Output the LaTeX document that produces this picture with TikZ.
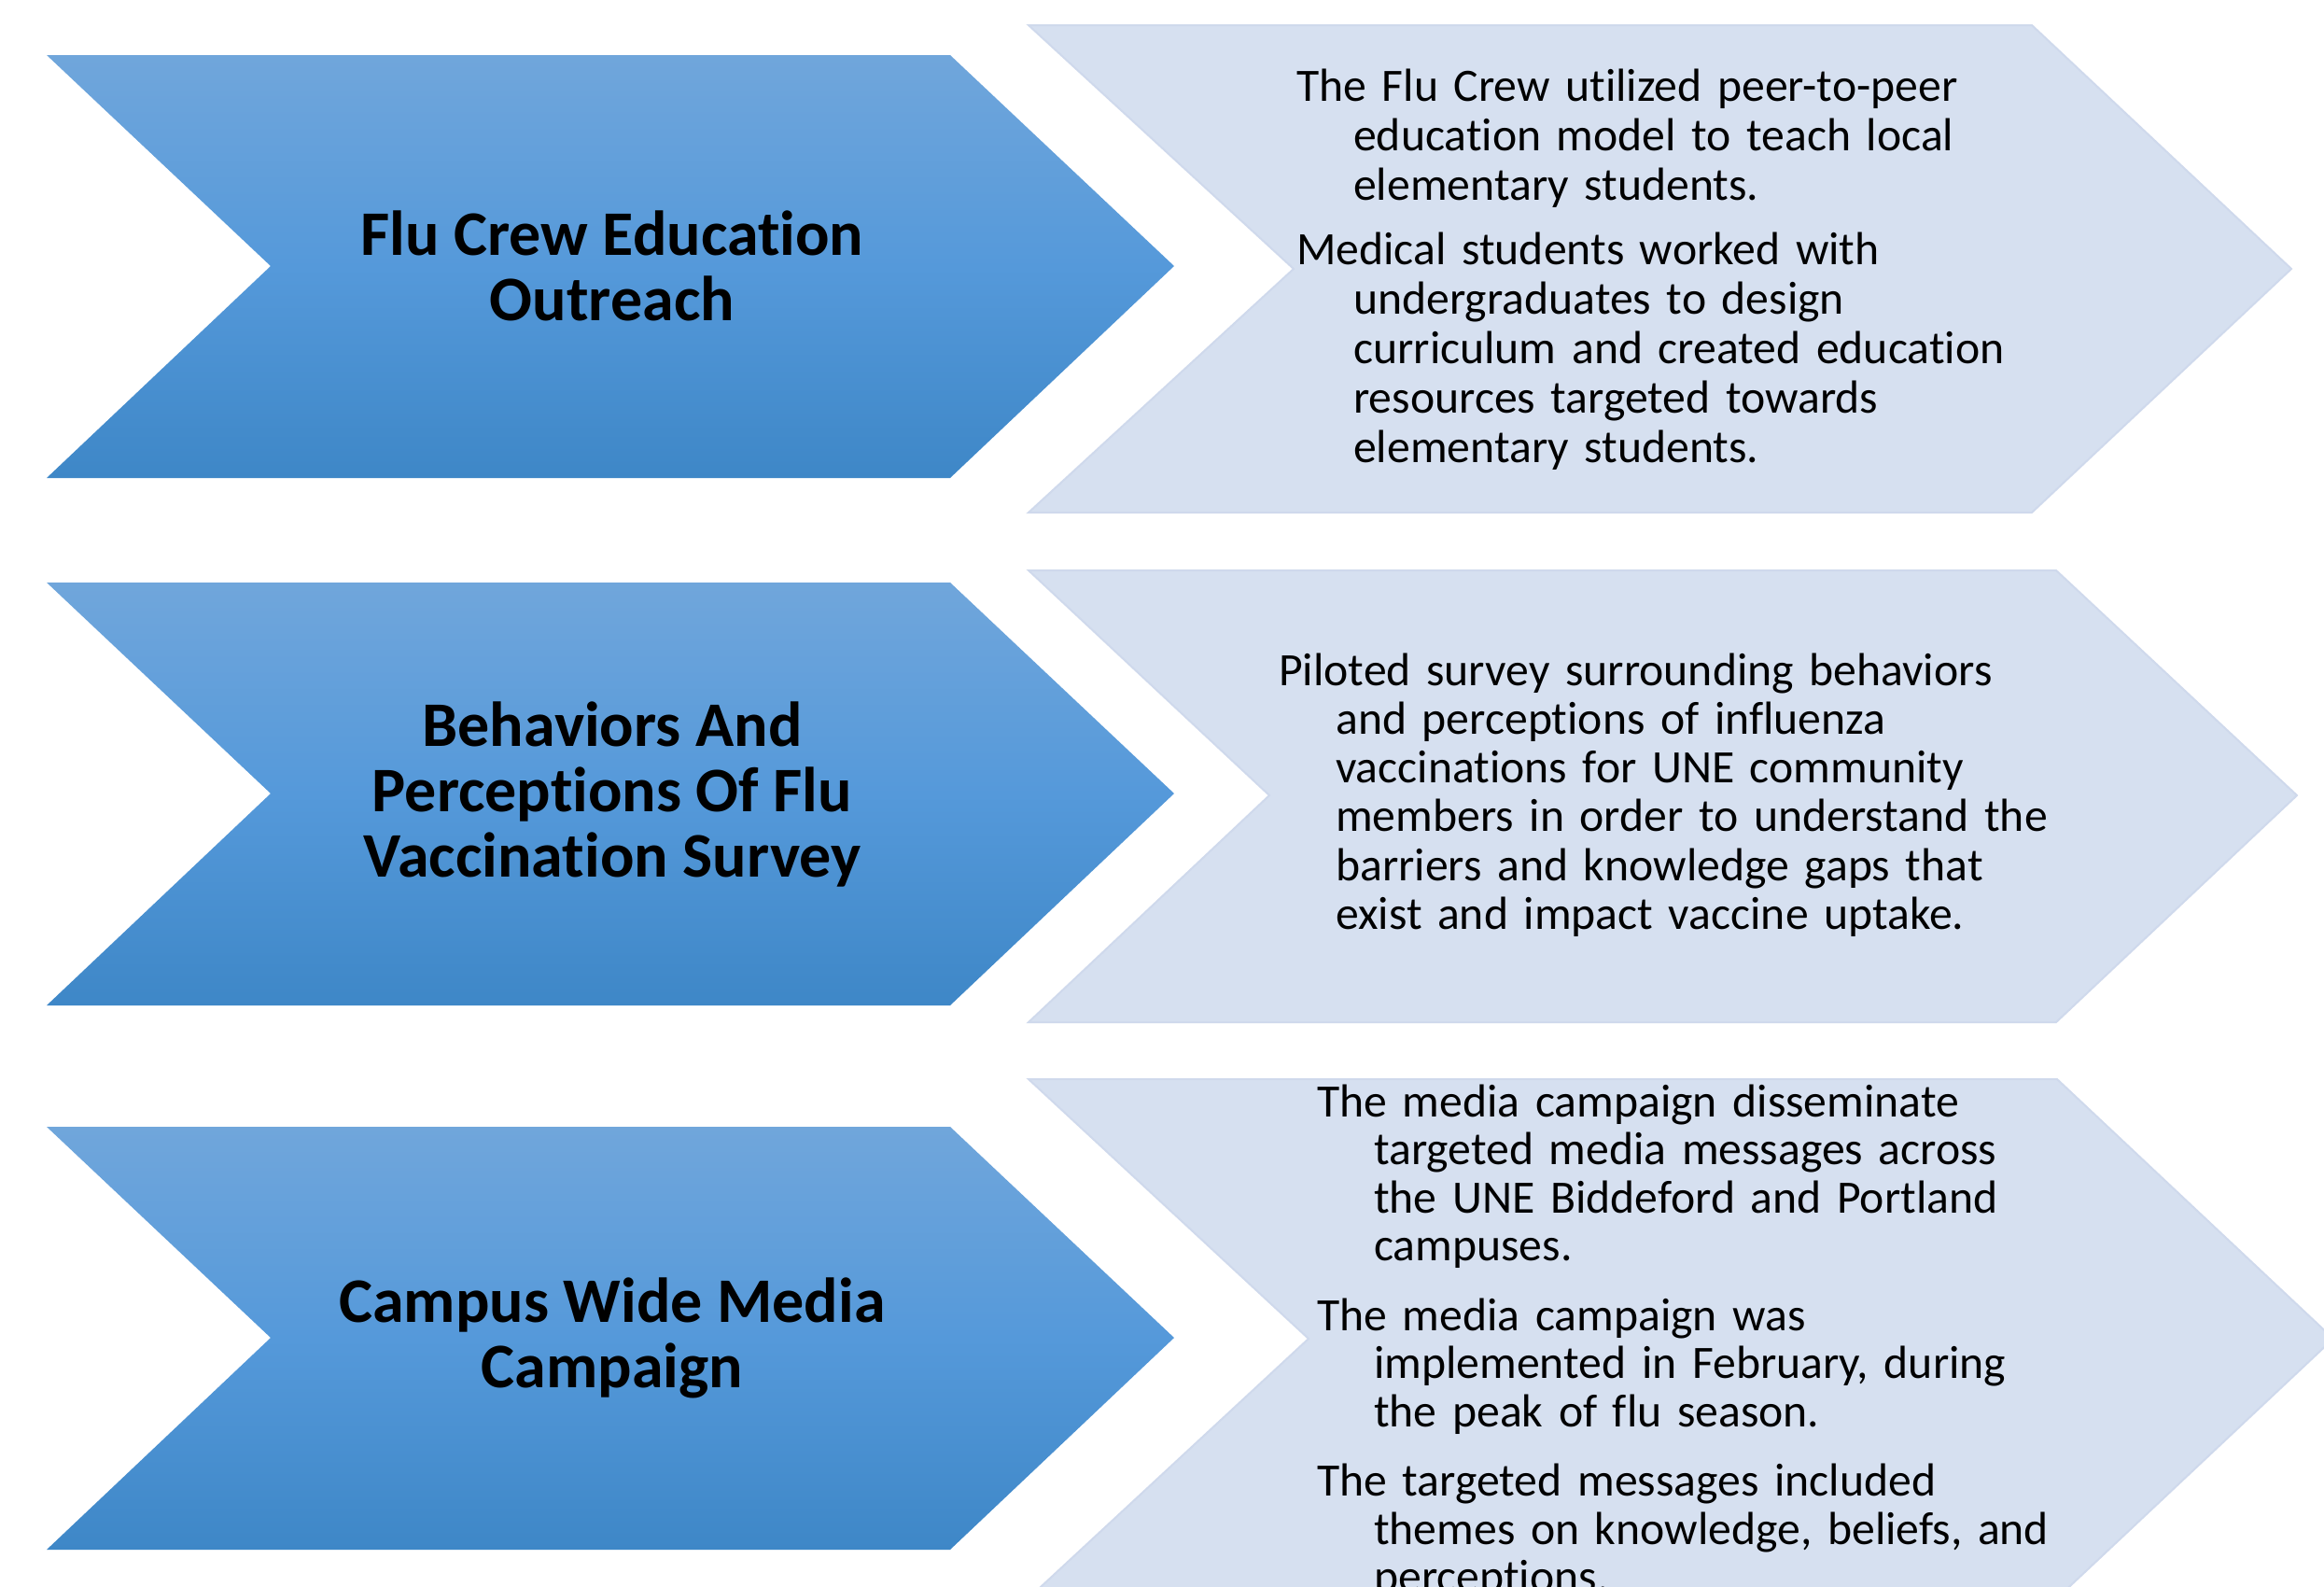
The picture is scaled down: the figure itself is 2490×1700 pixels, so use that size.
\documentclass[tikz,border=0pt]{standalone}
\usepackage{fontspec}
\setmainfont{Carlito}[Ligatures=NoCommon]
\newcommand\hangpar{\leftskip=61pt\relax\hspace*{-61pt}}
\begin{document}
\begin{tikzpicture}[x=1pt,y=-1pt,
  bluechev/.style={top color=bluetop, bottom color=bluebot, middle color=bluemid},
  lightchev/.style={fill=lightfill, draw=lightedge, line width=2pt},
  titletext/.style={align=center, inner sep=0pt, font=\fontsize{68}{70}\selectfont\bfseries},
  bodytext/.style={text width=950pt, align=left, inner sep=0pt, anchor=base west, font=\fontsize{49.7}{53}\selectfont}]
\definecolor{bluetop}{HTML}{70A6DB}
\definecolor{bluemid}{HTML}{5599DA}
\definecolor{bluebot}{HTML}{3E87C7}
\definecolor{lightfill}{HTML}{D6E0F0}
\definecolor{lightedge}{HTML}{CFD9EC}
\useasboundingbox (0,0) rectangle (2490,1700);
\clip (0,0) rectangle (2490,1700);
\fill[white] (0,0) rectangle (2490,1700);
% blue chevrons
\shade[bluechev] (50,59)--(1018,59)--(1258,285)--(1018,512)--(50,512)--(290,285)--cycle;
\shade[bluechev] (50,624)--(1018,624)--(1258,850)--(1018,1077)--(50,1077)--(290,850)--cycle;
\shade[bluechev] (50,1207)--(1018,1207)--(1258,1433)--(1018,1660)--(50,1660)--(290,1433)--cycle;
% light chevrons
\path[lightchev] (1102,27)--(2177,27)--(2455,288)--(2177,549)--(1102,549)--(1386,288)--cycle;
\path[lightchev] (1102,611)--(2203,611)--(2461,852)--(2203,1095)--(1102,1095)--(1360,852)--cycle;
\path[lightchev] (1102,1156)--(2204,1156)--(2500,1434)--(2204,1712)--(1102,1712)--(1402,1434)--cycle;
% titles
\node[titletext] (title1) at (656,285) {Flu Crew Education\\Outreach};
\node[titletext] (title2) at (656,851) {Behaviors And\\Perceptions Of Flu\\Vaccination Survey};
\node[titletext] (title3) at (656,1433) {Campus Wide Media\\Campaign};
% bodies
\node[bodytext] (body1) at (1389,108) {\hangpar The Flu Crew utilized peer-to-peer\\education model to teach local\\elementary students.\par\vspace{16pt}\hangpar Medical students worked with\\undergraduates to design\\curriculum and created education\\resources targeted towards\\elementary students.\par};
\node[bodytext] (body2) at (1370,734) {\baselineskip=52.3pt\hangpar Piloted survey surrounding behaviors\\and perceptions of influenza\\vaccinations for UNE community\\members in order to understand the\\barriers and knowledge gaps that\\exist and impact vaccine uptake.\par};
\node[bodytext] (body3) at (1411,1196) {\baselineskip=51.5pt\hangpar The media campaign disseminate\\targeted media messages across\\the UNE Biddeford and Portland\\campuses.\par\vspace{23pt}\hangpar The media campaign was\\implemented in February, during\\the peak of flu season.\par\vspace{23pt}\hangpar The targeted messages included\\themes on knowledge, beliefs, and\\perceptions.\par};
\end{tikzpicture}
\end{document}
